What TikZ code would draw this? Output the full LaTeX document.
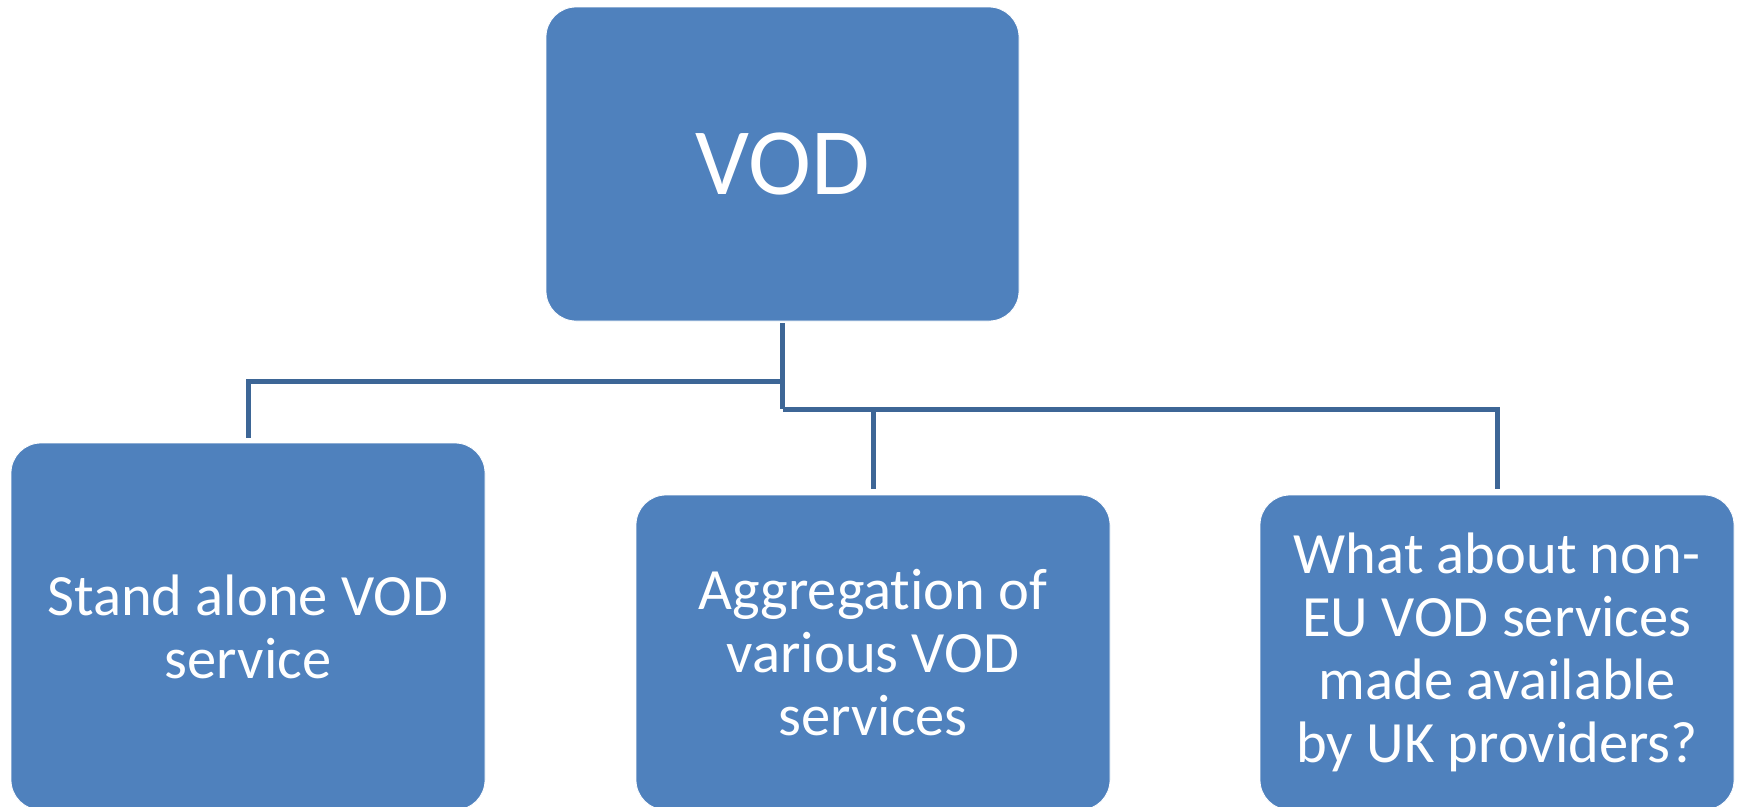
\documentclass[tikz,border=0pt]{standalone}
\usepackage{fontspec}
\setmainfont{Carlito}[Ligatures={NoCommon}]
\definecolor{boxblue}{HTML}{4F81BD}
\definecolor{linkblue}{HTML}{3D6696}
\begin{document}
\begin{tikzpicture}[x=1pt,y=-1pt,
  box/.style={fill=boxblue, draw=white, line width=0.8pt, rounded corners=30pt, inner sep=0pt,
    text=white, align=center},
  topbox/.style={box, minimum width=473pt, minimum height=314pt,
    font=\fontsize{95}{100}\selectfont},
  childbox/.style={box, minimum width=474pt,
    font=\fontsize{58.5}{63}\selectfont},
  link/.style={draw=linkblue, line width=5pt}]
\useasboundingbox (0,0) rectangle (1737,806);
\node[topbox] (top) at (782.5,164) {VOD};
\node[childbox, minimum height=367pt] (left) at (248,626.5) {Stand alone VOD\\service};
\node[childbox, minimum height=315pt] (mid) at (873,652.5) {Aggregat\kern0pt ion of\\various VOD\\services};
\node[childbox, minimum height=315pt] (right) at (1497,652.5) {What about non-\\EU VOD services\\made available\\by UK providers?};
\coordinate (j1) at (top.south |- 0,381);
\coordinate (j2) at (top.south |- 0,409);
\draw[link, shorten <=2pt] (top.south) -- (j2);
\draw[link, shorten >=5pt] (j1) -| (left.north);
\draw[link, shorten >=6pt] (j2) -| (mid.north);
\draw[link, shorten >=6pt] (j2) -| (right.north);
\end{tikzpicture}
\end{document}
